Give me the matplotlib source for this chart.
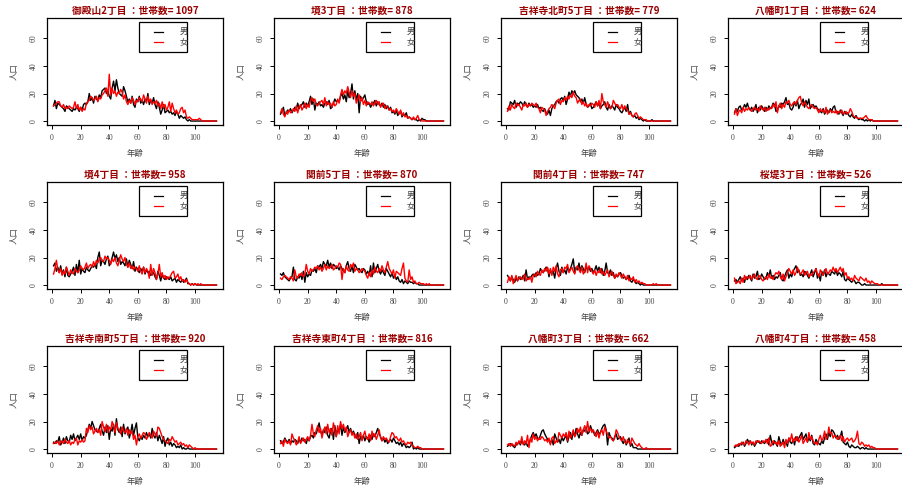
import matplotlib
matplotlib.use("Agg")
import matplotlib.pyplot as plt
from matplotlib.patches import Rectangle

plt.rcParams['font.family'] = ['Noto Sans CJK JP', 'DejaVu Sans']

# ages 1..115
ages = list(range(1, 116))

titles = ["御殿山2丁目", "境3丁目", "吉祥寺北町5丁目", "八幡町1丁目",
          "境4丁目", "関前5丁目", "関前4丁目", "桜堤3丁目",
          "吉祥寺南町5丁目", "吉祥寺東町4丁目", "八幡町3丁目", "八幡町4丁目"]
households = [1097, 878, 779, 624, 958, 870, 747, 526, 920, 816, 662, 458]

# male / female counts by age (from age 1), trailing zeros padded later
male = [
    [11, 15, 9, 13, 12, 11, 10, 9, 7, 11, 10, 9, 8, 7, 9, 8, 10, 9, 7, 10,
     8, 12, 13, 12, 14, 20, 15, 17, 13, 18, 16, 15, 19, 17, 22, 23, 24, 20, 22, 18,
     16, 24, 29, 22, 30, 24, 20, 19, 18, 25, 22, 18, 14, 16, 13, 18, 12, 10, 16, 14,
     18, 13, 15, 12, 16, 14, 20, 12, 15, 13, 17, 12, 9, 14, 10, 5, 8, 12, 6, 7,
     8, 6, 7, 5, 6, 4, 7, 5, 2, 4, 3, 2, 3, 1, 0, 1],
    [5, 7, 10, 4, 6, 8, 7, 9, 6, 8, 10, 8, 13, 9, 11, 12, 14, 10, 13, 11,
     14, 18, 12, 16, 8, 13, 12, 14, 11, 12, 10, 13, 14, 12, 15, 9, 10, 13, 16, 14,
     15, 14, 18, 20, 16, 19, 14, 22, 17, 20, 27, 16, 22, 15, 20, 6, 18, 15, 17, 19,
     14, 12, 13, 10, 12, 13, 15, 11, 14, 12, 11, 13, 10, 12, 9, 11, 8, 10, 6, 7,
     5, 8, 4, 6, 7, 3, 5, 4, 6, 2, 3, 2, 1, 2, 1, 1, 0, 1, 0, 2, 1, 1],
    [9, 8, 14, 13, 12, 15, 10, 13, 12, 14, 13, 11, 14, 12, 10, 13, 11, 12, 10, 11,
     10, 12, 9, 10, 8, 7, 9, 6, 5, 8, 4, 9, 11, 12, 14, 15, 13, 16, 17, 15,
     18, 12, 16, 21, 18, 22, 20, 22, 19, 18, 17, 14, 16, 13, 17, 12, 10, 11, 13, 9,
     10, 12, 14, 11, 13, 9, 11, 12, 14, 10, 8, 12, 9, 11, 10, 8, 12, 10, 9, 7,
     6, 8, 10, 7, 12, 5, 7, 4, 3, 4, 2, 3, 1, 2, 1, 0, 1, 0, 0, 0, 0, 1],
    [6, 9, 7, 10, 11, 8, 9, 12, 10, 13, 9, 8, 10, 7, 9, 12, 6, 10, 8, 11,
     9, 7, 10, 8, 11, 9, 10, 13, 12, 7, 8, 11, 10, 13, 12, 14, 17, 12, 13, 9,
     8, 10, 14, 11, 15, 9, 12, 13, 16, 10, 15, 12, 16, 9, 11, 12, 10, 11, 9, 8,
     7, 6, 9, 5, 7, 8, 6, 9, 7, 10, 11, 6, 7, 5, 8, 6, 4, 7, 5, 6,
     4, 3, 5, 3, 2, 4, 2, 1, 2, 1, 1, 0, 1, 0, 1, 0, 1],
    [14, 16, 10, 13, 9, 14, 8, 11, 6, 13, 7, 6, 8, 10, 13, 7, 15, 9, 18, 8,
     12, 10, 9, 13, 11, 10, 12, 14, 13, 15, 12, 20, 24, 14, 18, 17, 15, 19, 21, 14,
     16, 20, 24, 19, 22, 17, 20, 15, 17, 16, 14, 19, 13, 18, 15, 12, 17, 10, 13, 11,
     9, 12, 10, 13, 8, 11, 9, 10, 7, 8, 9, 6, 4, 10, 7, 3, 8, 5, 4, 6,
     5, 4, 6, 3, 4, 5, 2, 4, 3, 2, 4, 2, 3, 5, 1, 1, 0, 1, 0, 1],
    [8, 7, 9, 6, 5, 4, 3, 5, 6, 13, 4, 3, 6, 5, 8, 4, 10, 2, 9, 6,
     8, 7, 11, 10, 12, 9, 14, 13, 15, 12, 17, 15, 14, 18, 13, 16, 12, 15, 14, 12,
     13, 11, 14, 12, 10, 9, 14, 17, 12, 10, 14, 9, 15, 13, 11, 12, 10, 9, 12, 11,
     8, 10, 7, 14, 6, 16, 9, 12, 15, 10, 8, 11, 9, 7, 12, 10, 8, 6, 9, 5,
     7, 4, 6, 3, 2, 4, 1, 3, 2, 1, 3, 2, 2, 1, 2, 1, 1],
    [7, 5, 3, 6, 4, 2, 5, 3, 6, 4, 5, 7, 3, 11, 4, 6, 5, 7, 8, 6,
     9, 7, 8, 12, 10, 9, 11, 13, 12, 6, 11, 8, 10, 5, 12, 16, 10, 7, 13, 9,
     11, 8, 13, 10, 12, 15, 19, 9, 13, 11, 16, 10, 14, 12, 9, 14, 11, 13, 10, 12,
     9, 11, 14, 10, 13, 9, 12, 7, 10, 16, 9, 8, 11, 7, 9, 5, 7, 6, 8, 9,
     7, 5, 6, 4, 5, 7, 3, 2, 4, 3, 1, 2, 1, 0, 1],
    [3, 4, 2, 4, 6, 3, 5, 2, 6, 4, 7, 5, 3, 8, 5, 6, 10, 4, 5, 8,
     6, 4, 5, 9, 6, 11, 5, 7, 4, 6, 5, 7, 9, 4, 3, 6, 9, 11, 5, 8,
     6, 10, 12, 14, 9, 11, 7, 8, 6, 10, 9, 7, 5, 8, 11, 6, 9, 12, 5, 8,
     3, 10, 7, 11, 6, 9, 8, 7, 10, 9, 8, 11, 7, 9, 8, 6, 10, 4, 3, 5,
     4, 3, 2, 4, 3, 1, 2, 2, 1, 0, 0, 1, 0, 0, 0, 0, 0, 0, 0, 0, 0, 0, 0, 1],
    [5, 4, 6, 5, 9, 3, 5, 8, 4, 9, 6, 5, 10, 7, 11, 6, 8, 10, 7, 11,
     6, 9, 8, 10, 14, 18, 15, 20, 17, 14, 13, 12, 15, 18, 13, 10, 16, 12, 17, 7,
     15, 13, 18, 10, 22, 14, 12, 16, 9, 18, 11, 14, 16, 8, 12, 18, 10, 15, 19, 8,
     6, 9, 7, 10, 8, 12, 9, 11, 8, 15, 10, 8, 12, 6, 10, 7, 4, 9, 2, 6,
     8, 3, 5, 2, 4, 3, 1, 2, 1, 3, 0, 1, 0, 0, 1],
    [6, 4, 5, 8, 6, 5, 7, 4, 6, 5, 7, 6, 4, 7, 5, 8, 6, 7, 4, 8,
     6, 9, 10, 8, 12, 11, 15, 19, 13, 10, 14, 12, 16, 10, 8, 13, 15, 7, 17, 9,
     15, 13, 18, 10, 16, 12, 14, 17, 12, 15, 11, 13, 10, 8, 12, 4, 9, 7, 10, 6,
     9, 8, 5, 10, 7, 11, 9, 12, 15, 11, 9, 6, 8, 5, 7, 4, 6, 7, 5, 8,
     6, 4, 5, 3, 5, 2, 4, 3, 1, 2, 1, 2, 5, 0, 1, 0, 1],
    [2, 3, 4, 3, 2, 1, 3, 4, 5, 3, 6, 4, 3, 5, 2, 4, 7, 10, 12, 9,
     11, 8, 7, 10, 13, 14, 11, 9, 7, 6, 4, 7, 3, 11, 8, 5, 7, 4, 9, 6,
     8, 10, 5, 9, 12, 7, 13, 9, 15, 11, 8, 12, 10, 14, 13, 16, 11, 12, 17, 14,
     13, 10, 12, 14, 11, 12, 15, 17, 18, 14, 3, 12, 9, 8, 6, 9, 11, 7, 8, 9,
     6, 4, 7, 3, 5, 8, 2, 4, 1, 1, 1],
    [1, 2, 3, 2, 4, 3, 5, 2, 4, 7, 5, 6, 3, 5, 2, 4, 6, 5, 4, 6,
     5, 4, 6, 7, 3, 10, 5, 3, 6, 4, 2, 9, 5, 3, 7, 4, 5, 2, 8, 5,
     4, 7, 3, 9, 6, 8, 10, 12, 7, 9, 11, 5, 8, 6, 10, 4, 3, 7, 5, 4,
     3, 6, 4, 8, 11, 7, 12, 9, 14, 13, 11, 8, 10, 7, 9, 13, 5, 4, 3, 5,
     2, 1, 3, 2, 1, 1, 2, 1, 0, 1, 1, 0, 1],
]

female = [
    [11, 12, 13, 14, 14, 11, 10, 12, 9, 10, 9, 11, 10, 9, 10, 14, 9, 12, 8, 10,
     7, 9, 8, 13, 14, 15, 18, 17, 15, 16, 18, 14, 17, 16, 19, 20, 22, 24, 18, 34,
     19, 24, 20, 22, 18, 21, 20, 23, 21, 16, 19, 14, 12, 15, 13, 17, 15, 12, 15, 14,
     17, 16, 14, 19, 16, 13, 18, 14, 16, 12, 14, 13, 15, 11, 13, 9, 14, 10, 12, 8,
     10, 14, 7, 13, 9, 6, 8, 5, 6, 9, 10, 6, 8, 3, 2, 3, 2, 1, 1, 1, 1, 1, 2, 1],
    [6, 9, 5, 3, 7, 5, 8, 6, 7, 9, 7, 11, 6, 10, 12, 8, 10, 13, 9, 12,
     10, 15, 17, 14, 16, 12, 11, 13, 14, 15, 12, 17, 11, 14, 12, 13, 10, 14, 11, 12,
     16, 13, 19, 23, 19, 22, 20, 25, 21, 17, 22, 18, 20, 13, 16, 19, 14, 17, 12, 15,
     11, 14, 13, 12, 14, 11, 13, 15, 12, 14, 10, 12, 13, 9, 11, 10, 8, 9, 7, 8,
     6, 9, 7, 5, 8, 4, 6, 3, 4, 2, 3, 2, 1, 3, 1, 2, 4, 1, 1],
    [7, 11, 8, 12, 10, 9, 13, 11, 12, 10, 8, 12, 11, 13, 10, 12, 11, 13, 12, 11,
     13, 10, 9, 6, 10, 9, 8, 4, 7, 9, 10, 12, 11, 9, 13, 15, 16, 12, 15, 14,
     17, 15, 18, 16, 19, 17, 21, 18, 17, 13, 15, 16, 12, 14, 11, 13, 10, 12, 11, 13,
     12, 10, 14, 11, 15, 9, 20, 14, 12, 10, 14, 11, 9, 10, 15, 13, 11, 12, 10, 9,
     12, 8, 11, 9, 8, 5, 6, 4, 3, 5, 6, 4, 2, 3, 2, 1, 1, 1],
    [5, 9, 4, 7, 8, 6, 10, 7, 9, 8, 10, 8, 7, 9, 10, 8, 9, 7, 11, 9,
     8, 10, 7, 9, 8, 10, 9, 12, 10, 14, 6, 11, 13, 9, 12, 10, 14, 13, 15, 12,
     11, 13, 14, 12, 15, 17, 18, 13, 11, 14, 12, 10, 9, 11, 12, 10, 9, 10, 8, 6,
     9, 7, 8, 6, 10, 5, 7, 8, 6, 7, 6, 8, 5, 7, 6, 8, 5, 6, 7, 5,
     6, 9, 7, 4, 3, 3, 2, 2, 2, 2, 2, 3, 4, 2, 1, 1, 1],
    [8, 12, 18, 11, 9, 12, 7, 10, 8, 13, 10, 7, 11, 9, 8, 12, 10, 9, 11, 14,
     12, 11, 13, 16, 12, 14, 15, 13, 17, 14, 18, 16, 19, 20, 18, 17, 21, 19, 20, 18,
     15, 19, 17, 20, 16, 14, 18, 22, 19, 17, 20, 15, 13, 16, 12, 14, 11, 13, 12, 10,
     14, 10, 8, 13, 9, 12, 10, 5, 15, 7, 12, 9, 4, 8, 15, 6, 9, 5, 7, 4,
     6, 5, 7, 9, 10, 5, 6, 8, 4, 6, 3, 4, 2, 4, 2, 1, 0, 1, 0, 1, 0, 1, 0, 1],
    [5, 4, 6, 7, 6, 5, 4, 6, 5, 3, 11, 6, 5, 8, 7, 9, 6, 8, 15, 10,
     8, 12, 10, 11, 13, 12, 14, 11, 13, 10, 12, 15, 11, 14, 12, 13, 15, 11, 12, 14,
     13, 16, 15, 4, 12, 9, 14, 11, 10, 15, 13, 16, 10, 12, 11, 9, 10, 12, 11, 10,
     7, 5, 9, 6, 11, 8, 13, 10, 9, 12, 10, 14, 11, 9, 13, 17, 12, 10, 8, 11,
     5, 10, 9, 8, 7, 12, 16, 5, 3, 2, 11, 4, 6, 2, 3, 1, 1, 2, 1, 1, 1, 0, 1, 0, 1],
    [2, 6, 3, 7, 1, 4, 7, 3, 5, 6, 4, 5, 8, 3, 5, 4, 6, 2, 7, 8,
     6, 10, 8, 7, 11, 9, 12, 10, 13, 8, 12, 7, 13, 10, 14, 8, 6, 11, 12, 9,
     13, 12, 15, 9, 11, 13, 10, 8, 12, 14, 11, 9, 13, 8, 10, 16, 9, 14, 12, 10,
     8, 11, 7, 10, 9, 12, 8, 10, 7, 9, 11, 6, 8, 10, 7, 5, 8, 6, 9, 7,
     5, 8, 6, 4, 7, 3, 5, 4, 6, 2, 4, 2, 3, 1, 2, 1, 1, 0, 0, 0, 0, 0, 1, 0, 1],
    [5, 1, 2, 3, 1, 5, 2, 7, 4, 6, 5, 7, 4, 6, 8, 5, 4, 7, 6, 4,
     3, 5, 6, 4, 8, 5, 6, 4, 7, 9, 8, 10, 6, 4, 8, 3, 6, 9, 12, 10,
     8, 11, 7, 9, 13, 10, 8, 9, 11, 7, 9, 10, 6, 8, 7, 9, 10, 12, 8, 6,
     11, 9, 7, 10, 12, 8, 9, 11, 10, 13, 10, 12, 9, 11, 13, 10, 12, 7, 9, 5,
     6, 4, 5, 3, 7, 5, 4, 3, 6, 5, 4, 3, 5, 2, 3, 1, 3, 2, 1, 1, 1],
    [4, 5, 4, 6, 3, 5, 6, 4, 7, 5, 4, 6, 3, 5, 4, 7, 8, 3, 6, 5,
     7, 5, 6, 15, 12, 17, 14, 16, 11, 13, 15, 12, 14, 10, 20, 16, 13, 18, 12, 16,
     14, 20, 17, 12, 19, 15, 14, 11, 16, 13, 12, 15, 10, 14, 11, 13, 7, 10, 3, 9,
     11, 8, 10, 12, 11, 7, 9, 12, 10, 8, 13, 11, 9, 16, 15, 12, 9, 7, 6, 5,
     4, 7, 6, 9, 7, 5, 6, 3, 4, 5, 3, 4, 2, 3, 1, 3, 2, 1, 0, 1],
    [4, 6, 2, 7, 5, 4, 6, 3, 11, 8, 6, 3, 5, 9, 4, 6, 8, 5, 7, 9,
     6, 10, 18, 11, 9, 14, 17, 12, 15, 8, 13, 16, 11, 18, 12, 15, 10, 19, 14, 9,
     17, 11, 20, 15, 18, 13, 16, 9, 12, 14, 10, 12, 8, 11, 7, 9, 12, 6, 10, 13,
     8, 7, 11, 6, 13, 9, 11, 7, 10, 14, 8, 6, 9, 7, 8, 6, 5, 9, 12, 11,
     8, 9, 7, 6, 8, 5, 6, 4, 3, 5, 4, 5, 3, 2, 1, 1, 2, 1, 1],
    [3, 4, 2, 4, 3, 2, 5, 3, 6, 4, 9, 3, 6, 4, 10, 1, 8, 5, 11, 7,
     9, 6, 8, 7, 9, 8, 6, 7, 5, 8, 3, 8, 9, 4, 6, 5, 12, 10, 8, 11,
     9, 12, 6, 13, 8, 10, 14, 9, 11, 15, 12, 16, 10, 14, 17, 12, 20, 13, 15, 12,
     14, 11, 9, 13, 8, 12, 14, 10, 16, 13, 11, 8, 9, 7, 6, 8, 14, 12, 9, 7,
     6, 9, 5, 4, 7, 5, 3, 8, 6, 4, 3, 2, 4, 2, 1, 0, 0, 1],
    [2, 3, 2, 4, 3, 5, 4, 3, 6, 5, 3, 6, 4, 5, 3, 6, 5, 6, 5, 4,
     6, 5, 7, 4, 8, 2, 3, 6, 4, 5, 3, 6, 2, 4, 5, 1, 7, 4, 8, 6,
     11, 5, 8, 6, 9, 5, 7, 10, 4, 6, 8, 5, 12, 7, 9, 6, 4, 5, 3, 7,
     10, 6, 8, 13, 7, 9, 16, 11, 12, 8, 10, 9, 7, 8, 10, 6, 9, 5, 7, 8,
     6, 7, 8, 5, 6, 8, 13, 4, 3, 5, 4, 2, 3, 2, 3, 1, 2, 1, 1],
]


def pad(s):
    return s + [0] * (len(ages) - len(s))


W, H = 903, 486
fig = plt.figure(figsize=(W / 100, H / 100), dpi=100)
serif = 'Liberation Serif'
grey = '#444444'

for i in range(12):
    r, c = divmod(i, 4)
    left = 47 + c * 227
    top = 18 + r * 164
    ax = fig.add_axes([left / W, 1 - (top + 107) / H, 176 / W, 107 / H])
    ax.plot(ages, pad(male[i]), color='black', lw=1.0)
    ax.plot(ages, pad(female[i]), color='red', lw=1.0)
    ax.set_xlim(-3.56, 119.56)
    ax.set_ylim(-2.88, 74.88)
    ax.set_xticks([0, 20, 40, 60, 80, 100])
    ax.set_yticks([0, 20, 40, 60])
    ax.tick_params(length=3, width=0.7, labelsize=5.5, colors='black',
                   labelcolor=grey, pad=3.5)
    for lab in ax.get_xticklabels():
        lab.set_family(serif)
    for lab in ax.get_yticklabels():
        lab.set_family(serif)
        lab.set_rotation(90)
        lab.set_va('center')
    for sp in ax.spines.values():
        sp.set_linewidth(0.9)
    ax.set_title(f"{titles[i]} ：世帯数= {households[i]}", color='#9b0000',
                 fontsize=7, fontweight='bold', pad=3)
    ax.set_xlabel("年齢", fontsize=6, color=grey, labelpad=5)
    ax.set_ylabel("人口", fontsize=6, color=grey, labelpad=8)

    # legend box drawn like R's legend()
    box = Rectangle((0.52, 0.68), 0.275, 0.28, transform=ax.transAxes,
                    fill=False, edgecolor='black', lw=0.9, clip_on=False)
    ax.add_patch(box)
    for k, (col, lab) in enumerate([('black', '男'), ('red', '女')]):
        yy = 0.87 - k * 0.094
        ax.plot([0.61, 0.66], [yy, yy], color=col, lw=0.9, transform=ax.transAxes)
        t = ax.text(0.755, yy, lab, fontsize=6, color=grey, va='center',
                    transform=ax.transAxes)
        t.set_clip_path(box)

fig.savefig("out.png", dpi=100)
